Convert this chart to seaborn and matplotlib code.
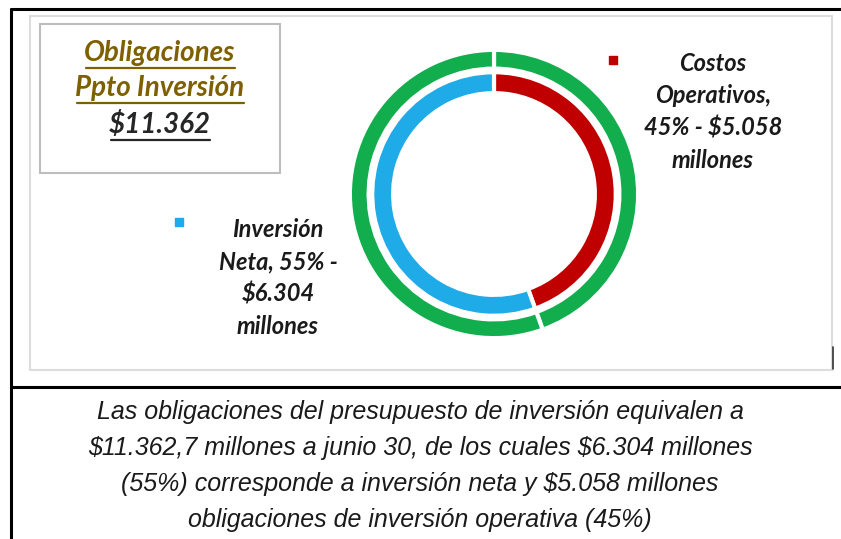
import matplotlib
matplotlib.use("Agg")
import matplotlib.pyplot as plt
import seaborn as sns
from matplotlib.patches import Rectangle
from matplotlib import font_manager

# Data
segments = ["Costos Operativos", "Inversión Neta"]
amounts = [5058, 6304]           # millones
shares = [45, 55]
inner_colors = ["#C00000", "#1FAAE8"]
outer_color = "#12AE4E"
label_texts = ["Costos\nOperativos,\n45% - $5.058\nmillones",
               "Inversión\nNeta, 55% -\n$6.304\nmillones"]
title_lines = ["Obligaciones", "Ppto Inversión", "$11.362"]
caption_lines = ["Las obligaciones del presupuesto de inversión equivalen a",
                 "$11.362,7 millones a junio 30, de los cuales $6.304 millones",
                 "(55%) corresponde a inversión neta y $5.058 millones",
                 "obligaciones de inversión operativa (45%)"]

sns.set_theme(style="white")
plt.rcParams['font.family'] = ['Lato', 'DejaVu Sans']
plt.rcParams['text.parse_math'] = False

W, H = 841, 539
fig = plt.figure(figsize=(W / 100, H / 100), dpi=100)
fig.patch.set_facecolor("white")

# overlay axes in pixel coordinates
bg = fig.add_axes([0, 0, 1, 1])
bg.set_xlim(0, W)
bg.set_ylim(H, 0)
bg.axis("off")

# outer black frame (open at the right edge)
bg.plot([11, 11], [9, H + 5], color="black", lw=2.2)
bg.plot([11, W + 5], [9, 9], color="black", lw=2.2)
bg.plot([11, W + 5], [387, 387], color="black", lw=2.2)

# chart area and title box
bg.add_patch(Rectangle((30, 16), 802, 354, fill=False, ec="#DCDCDC", lw=1.5))
bg.add_patch(Rectangle((40, 24), 240, 149, fill=False, ec="#BDBDBD", lw=1.5))
bg.plot([833, 833], [347, 369], color="#333333", lw=1.2)

# donut chart
cx, cy, R = 494, 194, 147
pie_ax = fig.add_axes([(cx - R) / W, (H - cy - R) / H, 2 * R / W, 2 * R / H])
pie_ax.pie(amounts, radius=1.0, startangle=90, counterclock=False,
           colors=[outer_color, outer_color],
           wedgeprops=dict(width=0.13, edgecolor="white", linewidth=3))
pie_ax.pie(amounts, radius=0.845, startangle=90, counterclock=False,
           colors=inner_colors,
           wedgeprops=dict(width=0.145, edgecolor="white", linewidth=3))
pie_ax.set_xlim(-1.02, 1.02)
pie_ax.set_ylim(-1.02, 1.02)

# data labels with legend keys
bg.scatter([613], [60], marker="s", s=40, color=inner_colors[0], zorder=3)
bg.scatter([179], [222], marker="s", s=40, color=inner_colors[1], zorder=3)
lab_kw = dict(fontsize=17, fontweight="bold", fontstyle="italic", color="#1A1A1A",
              ha="center", va="center", linespacing=1.5)
bg.text(713, 112, label_texts[0], **lab_kw)
bg.text(278, 278, label_texts[1], **lab_kw)

# title box text with underlines
title_colors = ["#7F6000", "#7F6000", "#262626"]
title_y = [53, 88, 125]
title_objs = []
for txt, col, y in zip(title_lines, title_colors, title_y):
    t = bg.text(160, y, txt, fontsize=20, fontweight="bold", fontstyle="italic",
                color=col, ha="center", va="center")
    title_objs.append((t, col, y))

# caption
narrow = [f.name for f in font_manager.fontManager.ttflist if f.name == "Liberation Sans Narrow"]
cap_family = ["Liberation Sans Narrow", "DejaVu Sans"] if narrow else ["Liberation Sans", "DejaVu Sans"]
for i, line in enumerate(caption_lines):
    bg.text(420, 412 + 36 * i, line, fontsize=18, fontstyle="italic", family=cap_family,
            color="#1A1A1A", ha="center", va="center")

fig.canvas.draw()
renderer = fig.canvas.get_renderer()
inv = bg.transData.inverted()
for t, col, y in title_objs:
    bb = t.get_window_extent(renderer)
    (x0, _), (x1, _) = inv.transform([[bb.x0, bb.y0], [bb.x1, bb.y1]])
    bg.plot([x0 + 2, x1 - 1], [y + 15, y + 15], color=col, lw=1.6)

fig.savefig("out.png", dpi=100, facecolor="white")
